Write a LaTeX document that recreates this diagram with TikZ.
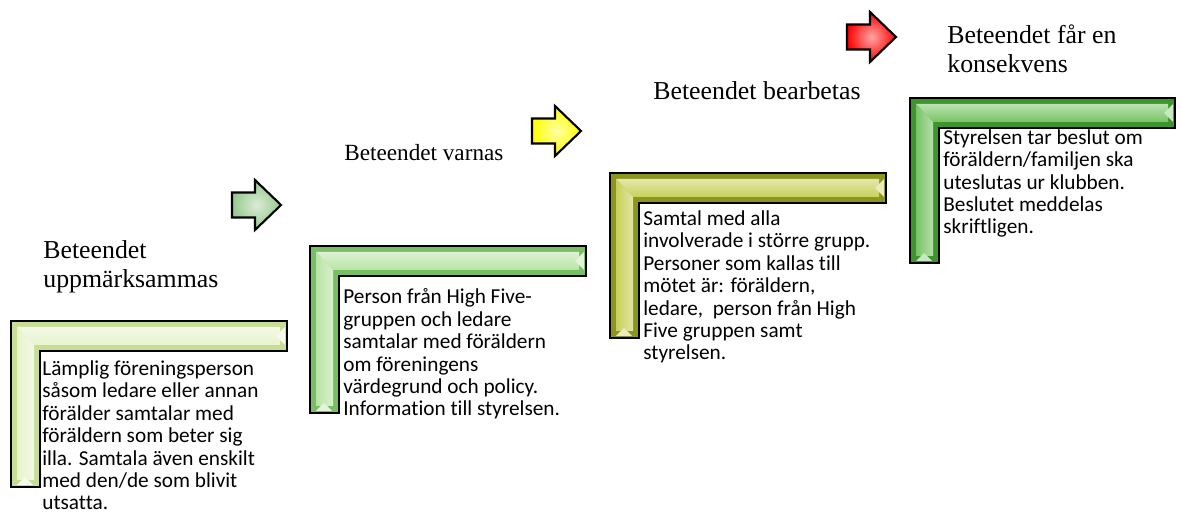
\documentclass[tikz,border=0pt]{standalone}
\usepackage{fontspec}
\setmainfont{Liberation Serif}
\newfontfamily\bodyfont[Ligatures=NoCommon]{Carlito}
\usepackage{tikz}
\definecolor{paleframe}{RGB}{200,222,150}
\definecolor{paleface}{RGB}{232,243,205}
\definecolor{softframe}{RGB}{120,190,100}
\definecolor{softface}{RGB}{185,228,165}
\definecolor{oliveframe}{RGB}{140,150,30}
\definecolor{oliveface}{RGB}{200,208,90}
\definecolor{deepframe}{RGB}{60,150,45}
\definecolor{deepface}{RGB}{120,196,100}
\definecolor{sagearrow}{RGB}{150,200,140}
\definecolor{lemonarrow}{RGB}{255,255,0}
\definecolor{firearrow}{RGB}{255,0,0}

\begin{document}
\begin{tikzpicture}[
	x=0.02cm, y=-0.02cm,
	title/.style={anchor=base west, inner sep=0pt, align=left,
		font=\fontsize{14.7}{17}\selectfont},
	bodytext/.style={anchor=base west, inner sep=0pt, align=left,
		font=\bodyfont\fontsize{12.1}{12.8}\selectfont},
	every path/.style={line join=miter},
]
\useasboundingbox (0,0) rectangle (1181,516);
% \stagebar(x,y){right}{bottom}{frame colour}{face colour}
% Bar 30 deep, upright 29 wide.
\def\stagebar(#1,#2)#3#4#5#6{
	\fill[#5] (#1,#2) -- (#3,#2) -- (#3,#2+30) -- (#1+29,#2+30)
		-- (#1+29,#4) -- (#1,#4) -- cycle;
	\shade[top color=#6!50!white, bottom color=#6] (#1+6,#2+6) -- (#3-7,#2+6)
		-- (#3-7,#2+24) -- (#1+23,#2+24) -- cycle;
	\shade[left color=#6, right color=#6!55!white] (#1+6,#2+6) -- (#1+23,#2+24)
		-- (#1+23,#4-7) -- (#1+6,#4-7) -- cycle;
	\fill[#6!40!white] (#3-2,#2+6) -- (#3-11,#2+15) -- (#3-2,#2+24) -- cycle;
	\fill[#6!40!white] (#1+6,#4-2) -- (#1+14,#4-10) -- (#1+22,#4-2) -- cycle;
	\draw[line width=1.1pt] (#1,#2) -- (#3,#2) -- (#3,#2+30) -- (#1+29,#2+30)
		-- (#1+29,#4) -- (#1,#4) -- cycle;
}
% \blockarrow(left x,middle y){colour}
\def\blockarrow(#1,#2)#3{
	\draw[line width=1.2pt, inner color=#3!35!white, outer color=#3]
		(#1,#2-12.5) -- (#1+23,#2-12.5) -- (#1+23,#2-25) -- (#1+49,#2)
		-- (#1+23,#2+25) -- (#1+23,#2+12.5) -- (#1,#2+12.5) -- cycle;
}
	\stagebar(11,321){287}{487}{paleframe}{paleface}
	\stagebar(310,246){586}{413}{softframe}{softface}
	\stagebar(610,173){886}{338}{oliveframe}{oliveface}
	\stagebar(910,98){1175}{263}{deepframe}{deepface}

	\blockarrow(232,205){sagearrow}
	\blockarrow(532,131){lemonarrow}
	\blockarrow(847,37){firearrow}

	% base anchor sits on the last line
	\node[title] (noticedtitle) at (43,288) {Beteendet\\uppmärksammas};
	\node[title, font=\fontsize{13.2}{17}\selectfont] (warnedtitle) at (344,161)
		{Beteendet varnas};
	\node[title] (handledtitle) at (653,100) {Beteendet bearbetas};
	\node[title] (endtitle) at (947,73) {Beteendet får en\\konsekvens};

	\node[bodytext] (noticedtext) at (42,510) {Lämplig föreningsperson\\
		såsom ledare eller annan\\förälder samtalar med\\föräldern som beter sig\\
		illa. Samtala även enskilt\\med den/de som blivit\\utsatta.};
	\node[bodytext] (warnedtext) at (343,416) {Person från High Five-\\
		gruppen och ledare\\samtalar med föräldern\\om föreningens\\
		värdegrund och policy.\\Information till styrelsen.};
	\node[bodytext] (handledtext) at (643,360) {Samtal med alla\\
		involverade i större grupp.\\Personer som kallas till\\
		mötet är: föräldern,\\ledare,\ \ person från High\\Five gruppen samt\\
		styrelsen.};
	\node[bodytext] (endtext) at (943,234) {Styrelsen tar beslut om\\
		föräldern/familjen ska\\uteslutas ur klubben.\\Beslutet meddelas\\
		skriftligen.};
\end{tikzpicture}
\end{document}
